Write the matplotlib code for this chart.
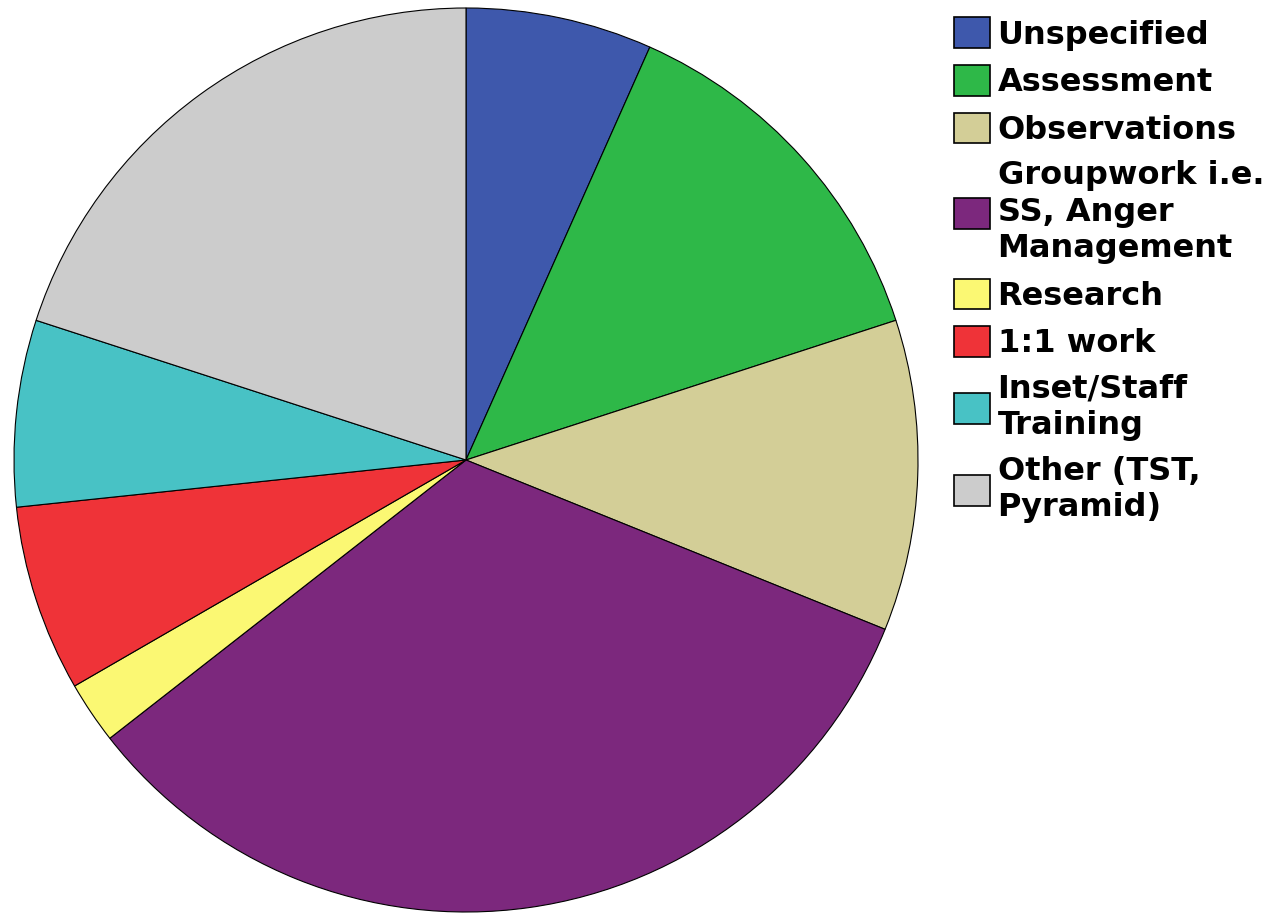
import matplotlib.pyplot as plt

# counts per activity (total 45)
labels = ["Unspecified", "Assessment", "Observations",
          "Groupwork i.e.\nSS, Anger\nManagement", "Research", "1:1 work",
          "Inset/Staff\nTraining", "Other (TST,\nPyramid)"]
counts = [3, 6, 5, 15, 1, 3, 3, 9]
colors = ["#3E58AC", "#2EB848", "#D3CE97", "#7C287D",
          "#FBF873", "#EF3338", "#48C2C5", "#CCCCCC"]

plt.rcParams['font.family'] = ['DejaVu Sans']

fig = plt.figure(figsize=(12.74, 9.13), dpi=100)
ax = fig.add_axes([14 / 1274, 1 / 913, 904 / 1274, 904 / 913])
wedges, _ = ax.pie(counts, colors=colors, startangle=90, counterclock=False,
                   radius=1.0,
                   wedgeprops=dict(edgecolor="black", linewidth=0.8))
ax.set_xlim(-1.0, 1.0)
ax.set_ylim(-1.0, 1.0)
ax.axis("off")

leg = fig.legend(wedges, labels, loc="upper left",
                 bbox_to_anchor=(948 / 1274, 1 - 11 / 913),
                 frameon=False, prop=dict(weight="bold", size=23),
                 handlelength=1.10, handleheight=1.10, handletextpad=0.25,
                 labelspacing=0.45, borderaxespad=0, borderpad=0.2)
for t in leg.get_texts():
    t.set_linespacing(1.23)
for p in leg.get_patches():
    p.set_linewidth(1.2)

fig.savefig("out.png", dpi=100)
